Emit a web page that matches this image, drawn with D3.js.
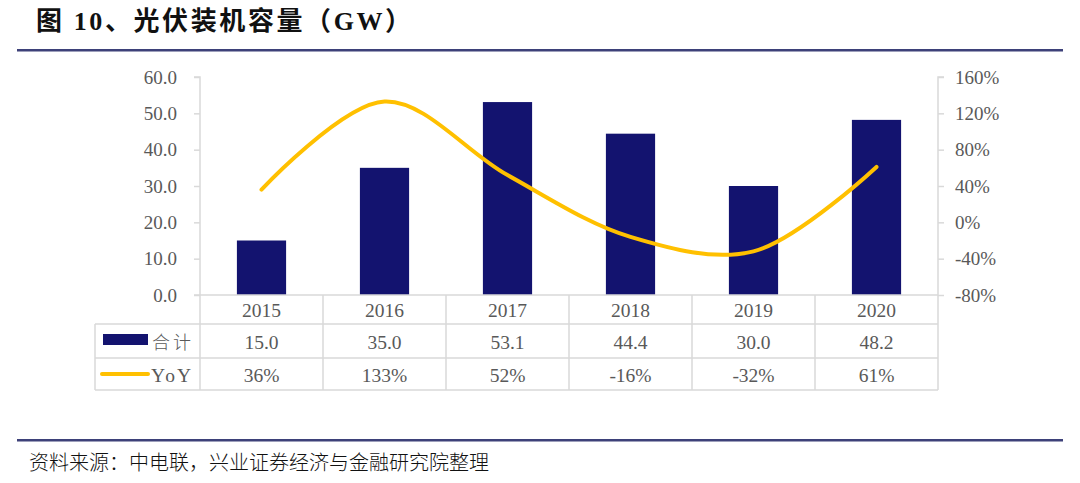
<!DOCTYPE html>
<html><head><meta charset="utf-8">
<script src="https://cdn.jsdelivr.net/npm/d3@7"></script>
<style>
body{margin:0;background:#fff;}
text{font-family:"Liberation Serif","Times New Roman","Noto Sans CJK SC",serif;}
</style></head>
<body><svg id="c" width="1080" height="483"></svg>
<script>
const years = ["2015","2016","2017","2018","2019","2020"];
const totals = [15.0, 35.0, 53.1, 44.4, 30.0, 48.2];
const yoy = [36, 133, 52, -16, -32, 61];
const leftTicks = [0, 10, 20, 30, 40, 50, 60];
const rightTicks = [-80, -40, 0, 40, 80, 120, 160];
const seriesNames = ["合计", "YoY"];
const titleText = "图 10、光伏装机容量（GW）";
const sourceText = "资料来源：中电联，兴业证券经济与金融研究院整理";

const svg = d3.select("#c");
const barColor = "#13136f", lineColor = "#ffc000", textColor = "#595959", gridColor = "#d9d9d9", ruleColor = "#3d4179";
const L = 200, R = 938, T = 77, B = 295;

// title & rules
svg.append("text").attr("x", 36).attr("y", 30).attr("font-size", 26).attr("font-weight", "bold").attr("letter-spacing", 2.6).attr("fill", "#111").text(titleText);
svg.append("rect").attr("x", 17).attr("y", 49).attr("width", 1046).attr("height", 2.5).attr("fill", ruleColor);
svg.append("rect").attr("x", 17).attr("y", 439).attr("width", 1046).attr("height", 2.5).attr("fill", ruleColor);
svg.append("text").attr("x", 29).attr("y", 470).attr("font-size", 20).attr("fill", "#111").attr("font-weight", 300).text(sourceText);

const x = d3.scaleBand().domain(years).range([L, R]).paddingInner(0.6).paddingOuter(0.3);
const xb = d3.scaleBand().domain(years).range([L, R]);
const y = d3.scaleLinear().domain([0, 60]).range([B, T]);
const y2 = d3.scaleLinear().domain([-80, 160]).range([B, T]);

// left axis
const la = svg.append("g").attr("transform", `translate(${L},0)`)
  .call(d3.axisLeft(y).tickValues(leftTicks).tickFormat(d3.format(".1f")).tickSize(6).tickPadding(17));
la.select(".domain").attr("stroke", gridColor).attr("stroke-width", 1.5).attr("d", `M-6,${T}H0V${B}`);
la.selectAll(".tick line").attr("stroke", gridColor).attr("stroke-width", 1.5);
la.selectAll(".tick text").attr("font-size", 19).attr("fill", textColor).attr("font-family", "Liberation Serif");

// right axis
const ra = svg.append("g").attr("transform", `translate(${R},0)`)
  .call(d3.axisRight(y2).tickValues(rightTicks).tickFormat(d => d + "%").tickSize(6).tickPadding(11));
ra.select(".domain").attr("stroke", gridColor).attr("stroke-width", 1.5).attr("d", `M6,${T}H0V${B}`);
ra.selectAll(".tick line").attr("stroke", gridColor).attr("stroke-width", 1.5);
ra.selectAll(".tick text").attr("font-size", 19).attr("fill", textColor).attr("font-family", "Liberation Serif");

// bars
svg.append("g").selectAll("rect").data(years).join("rect")
  .attr("x", d => x(d)).attr("width", x.bandwidth())
  .attr("y", (d, i) => y(totals[i])).attr("height", (d, i) => B - y(totals[i]))
  .attr("fill", barColor);

// line
const line = d3.line().x((d, i) => xb(years[i]) + xb.bandwidth() / 2).y(d => y2(d)).curve(d3.curveCatmullRom.alpha(0.5));
svg.append("path").datum(yoy).attr("d", line).attr("fill", "none").attr("stroke", lineColor).attr("stroke-width", 4).attr("stroke-linecap", "round");

// table
const tL = 95, r1 = 324, r2 = 358, r3 = 390;
const tg = svg.append("g").attr("stroke", gridColor).attr("stroke-width", 1.5);
tg.append("line").attr("x1", L - 6).attr("x2", R).attr("y1", B).attr("y2", B);
tg.append("line").attr("x1", tL).attr("x2", R).attr("y1", r1).attr("y2", r1);
tg.append("line").attr("x1", tL).attr("x2", R).attr("y1", r2).attr("y2", r2);
tg.append("line").attr("x1", tL).attr("x2", R).attr("y1", r3).attr("y2", r3);
tg.append("line").attr("x1", tL).attr("x2", tL).attr("y1", r1).attr("y2", r3);
years.forEach(d => tg.append("line").attr("x1", xb(d)).attr("x2", xb(d)).attr("y1", B).attr("y2", r3));
tg.append("line").attr("x1", R).attr("x2", R).attr("y1", B).attr("y2", r3);

const cx = d => xb(d) + xb.bandwidth() / 2;
const tt = svg.append("g").attr("font-size", 19.5).attr("fill", textColor).attr("text-anchor", "middle");
years.forEach((d, i) => {
  tt.append("text").attr("x", cx(d)).attr("y", 317).text(d);
  tt.append("text").attr("x", cx(d)).attr("y", 349).text(d3.format(".1f")(totals[i]));
  tt.append("text").attr("x", cx(d)).attr("y", 382).text(yoy[i] + "%");
});
// legend in table
svg.append("rect").attr("x", 103).attr("y", 334).attr("width", 45).attr("height", 11).attr("fill", barColor);
svg.append("text").attr("x", 152).attr("y", 349).attr("font-size", 18).attr("fill", textColor).attr("letter-spacing", 3).attr("font-family", "Noto Sans CJK SC").attr("font-weight", 300).text(seriesNames[0]);
svg.append("line").attr("x1", 102).attr("x2", 148).attr("y1", 374).attr("y2", 374).attr("stroke", lineColor).attr("stroke-width", 4).attr("stroke-linecap", "round");
svg.append("text").attr("x", 151).attr("y", 382).attr("font-size", 19.5).attr("fill", textColor).attr("letter-spacing", 2).text(seriesNames[1]);
</script></body></html>
